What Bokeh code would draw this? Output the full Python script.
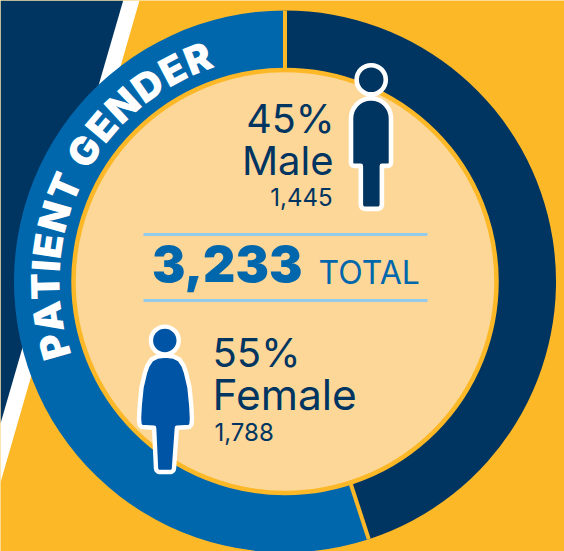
import math
import numpy as np
from bokeh.plotting import figure
from bokeh.embed import file_html
from bokeh.resources import INLINE
from bokeh.core.properties import value

categories = ["Male", "Female"]
percents = [45, 55]
counts = ["1,445", "1,788"]
total = "3,233"
total_label = "TOTAL"
ring_title = "PATIENT GENDER"

NAVY = "#003561"
BLUE = "#0067AC"
YELLOW = "#FDB827"
CREAM = "#FDD797"
FEMALE = "#0054A6"
RULE = "#93CBEC"
W, H = 564, 551
CX, CY, R_OUT, R_IN = 284.5, 270, 271, 212
BL = 0.41

def Y(v):
    return H - v

p = figure(width=W, height=H, x_range=(0, W), y_range=(0, H), output_backend="svg",
           toolbar_location=None, min_border=0, outline_line_color=None,
           background_fill_color=YELLOW, border_fill_color=YELLOW, margin=(0, 0, 0, 0))
p.axis.visible = False
p.grid.visible = False

# background stripes
p.patch([0, 139, 0], [Y(0), Y(0), Y(482)], fill_color="white", line_color=None)
p.patch([0, 122.7, 0], [Y(0), Y(0), Y(423)], fill_color=NAVY, line_color=None)

# donut
fr = np.cumsum([0] + percents) / sum(percents)
start = np.pi / 2 - 2 * np.pi * fr[:-1]
end = np.pi / 2 - 2 * np.pi * fr[1:]
p.annular_wedge(x=CX, y=CY, inner_radius=R_IN, outer_radius=R_OUT, start_angle=list(start), end_angle=list(end),
                direction="clock", fill_color=[NAVY, BLUE], line_color=None)
p.segment(x0=[CX + R_IN * math.cos(a) for a in start], y0=[CY + R_IN * math.sin(a) for a in start],
          x1=[CX + R_OUT * math.cos(a) for a in start], y1=[CY + R_OUT * math.sin(a) for a in start],
          line_color=YELLOW, line_width=4)
p.circle(x=[CX], y=[CY], radius=R_IN - 0.5, fill_color=CREAM, line_color=YELLOW, line_width=4.5)

# rules
p.segment(x0=[143, 143], x1=[427, 427], y0=[Y(234), Y(300)], y1=[Y(234), Y(300)], line_color=RULE, line_width=3)

# ring title, letter by letter
adv = dict(P=.66, A=.78, T=.69, I=.31, E=.65, N=.79, G=.79, D=.75, R=.68)
adv[" "] = .25
FS = 39
rb = 224
pos = 251.0
for ch in ring_title:
    w = adv[ch] * FS
    th = pos + math.degrees(w / 2 / rb)
    pos += math.degrees(w / rb)
    if ch == " ":
        continue
    t = math.radians(th)
    ra = rb + BL * FS
    p.text(x=[CX + ra * math.sin(t)], y=[CY + ra * math.cos(t)], text=[ch], angle=[-t], text_color="white",
           text_font=value("Inter Black"), text_font_style="bold", text_font_size=f"{FS}px",
           text_align="center", text_baseline="alphabetic")

def label(x, y, s, size, color=NAVY, align="left", style="normal", font="Inter"):
    p.text(x=[x], y=[Y(y) + BL * size], text=[s], text_color=color, text_font=value(font), text_font_style=style,
           text_font_size=f"{size}px", text_align=align, text_baseline="alphabetic")

label(334, 135, f"{percents[0]}%", 39.5, align="right")
label(333, 176, categories[0], 40, align="right")
label(332, 206.5, counts[0], 24, align="right")
label(212, 368, f"{percents[1]}%", 40)
label(212, 411, categories[1], 42.5)
label(214, 441.5, counts[1], 24)
label(151.5, 284, total, 50, color=BLUE, style="bold", font="Inter Black")
label(318, 285, total_label, 32, color=BLUE)

def arc(cx, cy, r, a0, a1, n=8):
    return [(cx + r * math.cos(math.radians(a)), cy + r * math.sin(math.radians(a))) for a in np.linspace(a0, a1, n)]

# figures (outline centre lines, screen pixels)
male = (arc(370.5, 117.8, 20.0, 180, 360, 18) + arc(387.5, 162.4, 3, 0, 90, 4) + [(381.4, 165.4)]
        + arc(377.4, 204.4, 4, 0, 90, 4) + arc(364.3, 204.4, 4, 90, 180, 4) + [(360.3, 165.4)]
        + arc(353.5, 162.4, 3, 90, 180, 4))
male_x, male_y = zip(*male)
p.patch(list(male_x), [Y(v) for v in male_y], fill_color=NAVY, line_color="white", line_width=4.6, line_join="round")
p.circle(x=[370.7], y=[Y(79.3)], radius=14.6, fill_color=NAVY, line_color="white", line_width=4.6)

fem_y = [355, 356, 359, 365, 372, 387, 405, 418, 424, 426.5]
fem_h = [0, 8, 14, 18, 20.5, 24, 25.8, 26.5, 26, 24]
fx = 165
fem = [(fx + h, v) for v, h in zip(fem_y, fem_h)]
fem += [(176.4, 427.3)] + arc(170, 468, 3.5, 0, 90, 4) + arc(159, 468, 3.5, 90, 180, 4) + [(153.6, 427.3)]
fem += [(fx - h, v) for v, h in zip(reversed(fem_y[1:]), reversed(fem_h[1:]))]
fem_px, fem_py = zip(*fem)
p.patch(list(fem_px), [Y(v) for v in fem_py], fill_color=FEMALE, line_color="white", line_width=4.4, line_join="round")
p.circle(x=[164.3], y=[Y(340)], radius=13.9, fill_color=FEMALE, line_color="white", line_width=4.4)

open("out.html", "w").write(file_html(p, INLINE))
